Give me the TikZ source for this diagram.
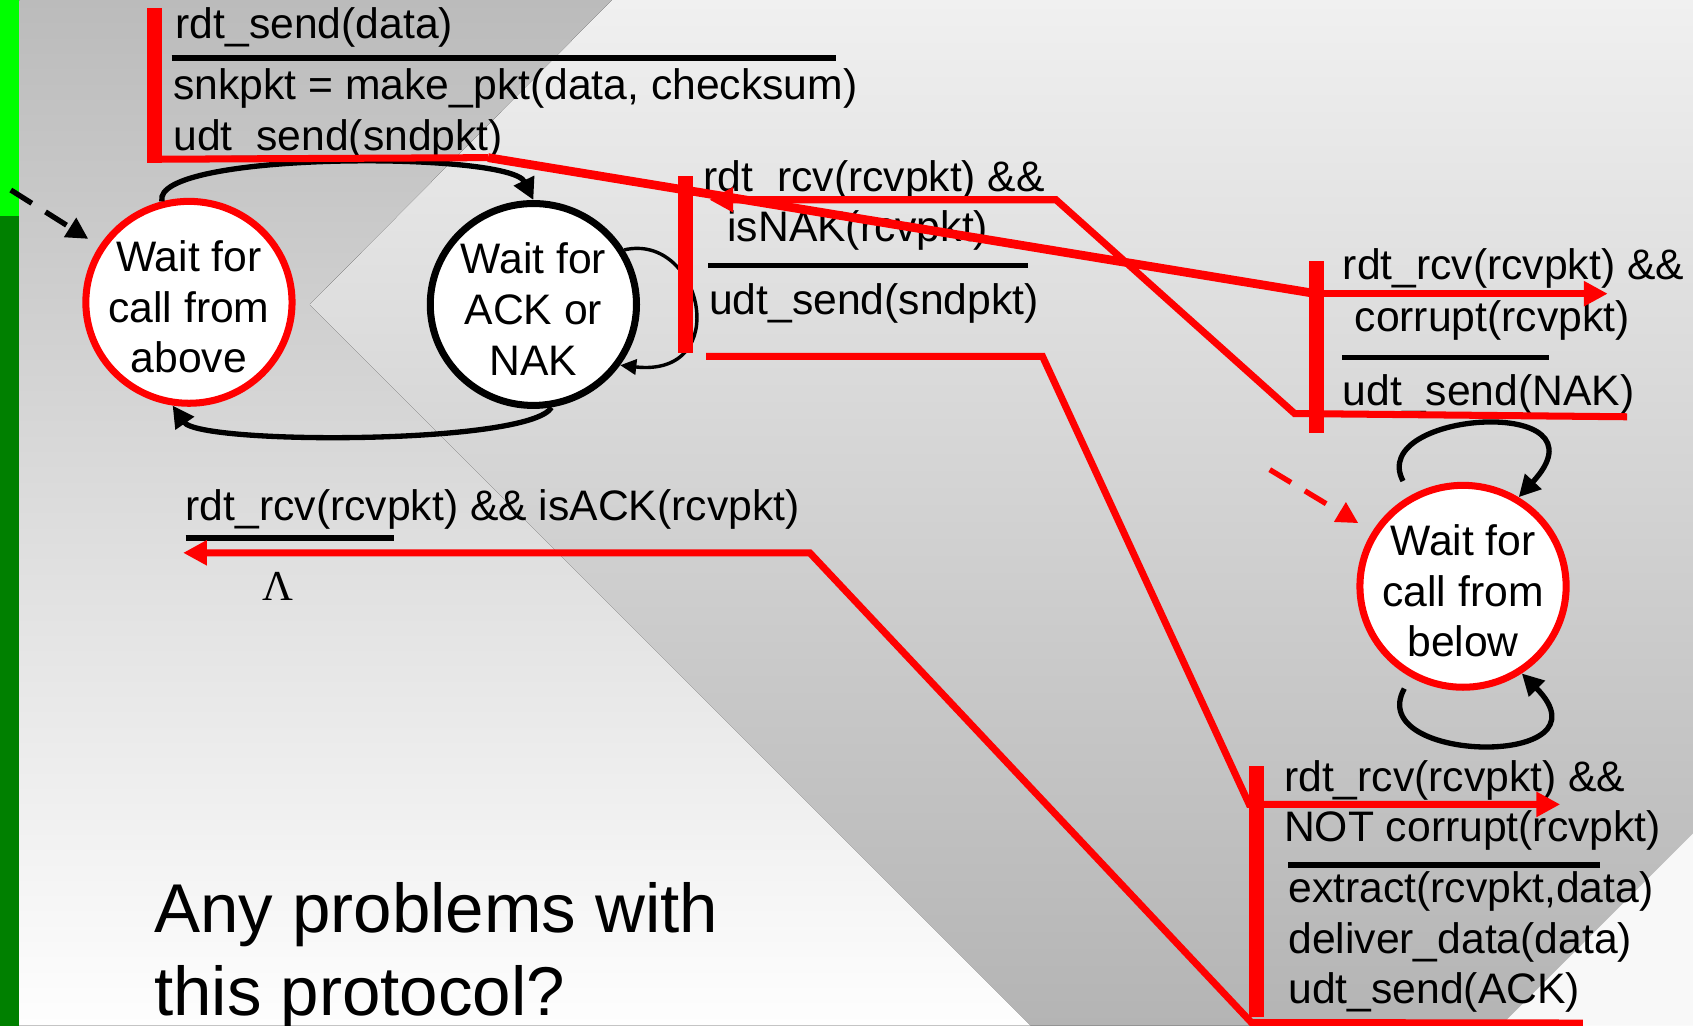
\documentclass[tikz,border=0pt]{standalone}
\usepackage{fontspec}
\setmainfont{Liberation Sans}
\newfontfamily\lambdafont{Liberation Serif}
\usepackage{tikz}
\usetikzlibrary{shapes, arrows.meta}
\definecolor{CornerDark}{RGB}{187,187,187}
\definecolor{CornerLight}{RGB}{254,254,254}
\definecolor{BandTop}{RGB}{240,240,240}
\definecolor{BandBottom}{RGB}{180,180,180}
\definecolor{CornerWhite}{RGB}{248,248,248}
\definecolor{BarLight}{RGB}{0,255,0}
\definecolor{BarDark}{RGB}{0,128,0}
\definecolor{Flow}{RGB}{255,0,0}
\newcommand{\guardsize}{\fontsize{11.24pt}{13.37pt}\selectfont}
\newcommand{\asksize}{\fontsize{18.2pt}{21.9pt}\selectfont}
\newcommand{\toplift}{\rule{0pt}{0.37cm}}

\begin{document}
\begin{tikzpicture}
			\tikzstyle{state}=[draw, shape=ellipse, fill=white, line width=1.85pt, minimum width=1.91cm, minimum height=1.87cm, inner sep=-0.1cm, align=center, font=\guardsize];
			\tikzstyle{guard}=[anchor=base west, inner sep=0pt, font=\guardsize];
			\tikzstyle{guardrule}=[line width=1.5pt];
			\tikzstyle{trans}=[line width=1.4pt, -{Triangle[length=0.2cm, width=0.2cm]}];
			\tikzstyle{initarrow}=[line width=1.4pt, dash pattern=on 0.23cm off 0.15cm, -{Triangle[length=0.2cm, width=0.2cm]}];
			\tikzstyle{flow}=[draw=Flow, line width=1.85pt, line join=miter];
			\tikzstyle{flowarrow}=[flow, -{Triangle[length=0.22cm, width=0.22cm]}];
			\tikzstyle{flowbar}=[fill=Flow, shape=rectangle, minimum width=0.14cm, inner sep=0pt];
			\useasboundingbox (0,0) rectangle (15.68,-9.50);
			\fill[top color=CornerDark, bottom color=CornerLight] (0.18,0) -- (5.67,0) -- (2.87,-2.82) -- (9.55,-9.50) -- (0.18,-9.50) -- cycle;
			\fill[top color=BandTop, bottom color=BandBottom] (5.67,0) -- (15.68,0) -- (15.68,-7.72) -- (13.90,-9.50) -- (9.55,-9.50) -- (2.87,-2.82) -- cycle;
			\fill[CornerWhite] (15.68,-7.72) -- (15.68,-9.50) -- (13.90,-9.50) -- cycle;
			\fill[BarLight] (0,0) rectangle (0.18,-2.00);
			\fill[BarDark] (0,-2.00) rectangle (0.18,-9.50);
			\node [state, draw=Flow] (waitabove) at (1.75, -2.80) {\toplift Wait for\\call from\\above};
			\node [state, draw=black] (waitack) at (4.94, -2.82) {\toplift Wait for\\ACK or\\NAK};
			\node [state, draw=Flow] (waitbelow) at (13.55, -5.43) {\toplift Wait for\\call from\\below};
			\coordinate (initabove) at (0.10, -1.76);
			\coordinate (initbelow) at (11.76, -4.35);
			\draw[initarrow, shorten >=0.12cm] (initabove) -- (waitabove);
			\draw[initarrow, Flow, shorten >=0.15cm] (initbelow) -- (waitbelow);
			\draw[trans] (waitabove.105) .. controls (1.40,-1.40) and (4.72,-1.40) .. (waitack.90);
			\draw[trans] (waitack.280) .. controls (4.90,-4.12) and (1.85,-4.12) .. (waitabove.261);
			\draw[trans, line width=0.9pt, -{Triangle[length=0.15cm, width=0.14cm]}] (waitack.31) .. controls (6.50,-2.15) and (6.80,-3.50) .. (waitack.325);
			\draw[trans, shorten <=0.15cm] (waitbelow.120) .. controls (12.65,-3.80) and (14.95,-3.65) .. (waitbelow.58);
			\draw[trans, shorten <=0.12cm] (waitbelow.240) .. controls (12.62,-7.08) and (14.97,-7.12) .. (waitbelow.304);
			\node [guard] (sendevt) at (1.62, -0.36) {rdt\_send(data)};
			\node [guard] (sendmake) at (1.60, -0.926) {snkpkt = make\_pkt(data, checksum)};
			\node [guard] (sendudt) at (1.60, -1.39) {udt\_send(sndpkt)};
			\draw[guardrule] (1.59,-0.535) -- (7.74,-0.535);
			\node [guard] (nakevt) at (6.51, -1.775) {rdt\_rcv(rcvpkt) \&\&};
			\node [guard] (nakcheck) at (6.73, -2.24) {isNAK(rcvpkt)};
			\node [guard] (nakudt) at (6.56, -2.917) {udt\_send(sndpkt)};
			\draw[guardrule] (6.56,-2.46) -- (9.52,-2.46);
			\node [guard] (corevt) at (12.43, -2.59) {rdt\_rcv(rcvpkt) \&\&};
			\node [guard] (corcheck) at (12.54, -3.07) {corrupt(rcvpkt)};
			\node [guard] (corudt) at (12.43, -3.76) {udt\_send(NAK)};
			\draw[guardrule] (12.43,-3.31) -- (14.35,-3.31);
			\node [guard] (ackevt) at (1.713, -4.82) {rdt\_rcv(rcvpkt) \&\& isACK(rcvpkt)};
			\node [guard, font=\guardsize\lambdafont] (acklambda) at (2.42, -5.56) {Λ};
			\draw[guardrule] (1.72,-4.98) -- (3.65,-4.98);
			\node [guard] (okevt) at (11.886, -7.327) {rdt\_rcv(rcvpkt) \&\&};
			\node [guard] (okcheck) at (11.886, -7.79) {NOT corrupt(rcvpkt)};
			\node [guard] (okextract) at (11.925, -8.358) {extract(rcvpkt,data)};
			\node [guard] (okdeliver) at (11.925, -8.83) {deliver\_data(data)};
			\node [guard] (okudt) at (11.925, -9.296) {udt\_send(ACK)};
			\draw[guardrule] (11.93,-8.014) -- (14.82,-8.014);
			\node [guard, font=\asksize] (askone) at (1.42, -8.64) {Any problems with};
			\node [guard, font=\asksize] (asktwo) at (1.42, -9.407) {this protocol?};
			\node [flowbar, minimum height=1.44cm] (bara) at (1.43, -0.79) {};
			\node [flowbar, minimum height=1.64cm] (barb) at (6.345, -2.45) {};
			\node [flowbar, minimum height=1.59cm] (barc) at (12.19, -3.215) {};
			\node [flowbar, minimum height=2.325cm] (bare) at (11.64, -8.2575) {};
			\draw[flow] (1.43,-1.475) -- (4.52,-1.46);
			\draw[flow, line width=2.3pt] (4.52,-1.46) -- (12.19,-2.72);
			\draw[flowarrow] (12.19,-2.72) -- (14.89,-2.72);
			\draw[flowarrow] (15.07,-3.86) -- (11.99,-3.83) -- (9.78,-1.85) -- (6.57,-1.85);
			\draw[flowarrow] (6.54,-3.30) -- (9.655,-3.30) -- (11.57,-7.45) -- (14.45,-7.45);
			\draw[flowarrow] (14.66,-9.475) -- (11.59,-9.47) -- (7.50,-5.12) -- (1.696,-5.12);
		\end{tikzpicture}
\end{document}
